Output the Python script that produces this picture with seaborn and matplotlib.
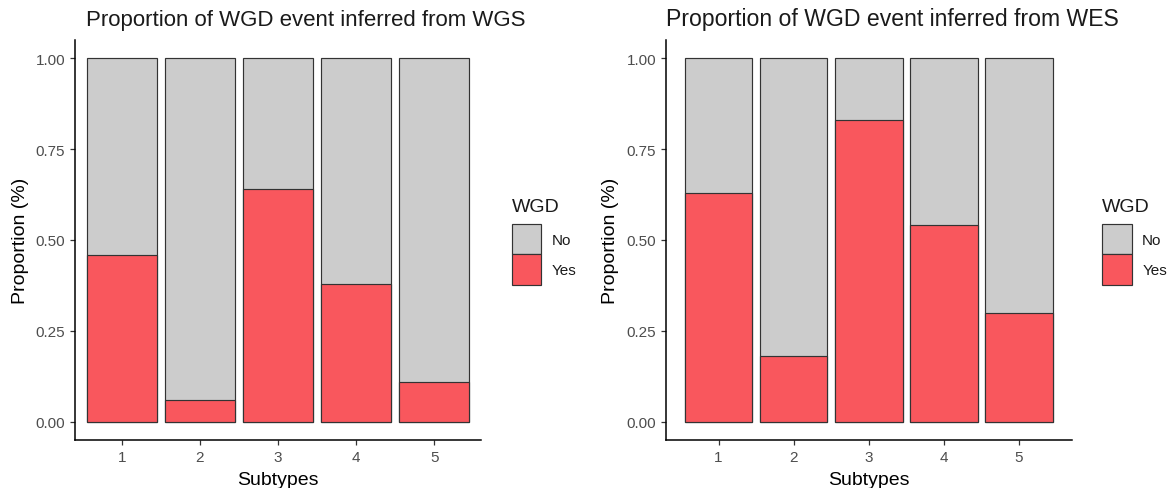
import matplotlib
matplotlib.use("Agg")
import matplotlib.pyplot as plt
import seaborn as sns
import numpy as np
from matplotlib.patches import Patch

# ---- data ----
subtypes = ["1", "2", "3", "4", "5"]
wgs_yes = [0.46, 0.06, 0.64, 0.38, 0.11]
wgs_no = [0.54, 0.94, 0.36, 0.62, 0.89]
wes_yes = [0.63, 0.18, 0.83, 0.54, 0.30]
wes_no = [0.37, 0.82, 0.17, 0.46, 0.70]
titles = ["Proportion of WGD event inferred from WGS",
          "Proportion of WGD event inferred from WES"]
legend_title = "WGD"
legend_labels = ["No", "Yes"]
y_ticks = [0.00, 0.25, 0.50, 0.75, 1.00]

sns.set_theme(style="ticks")
plt.rcParams["font.family"] = ["Liberation Sans", "DejaVu Sans"]

GRAY = "#CCCCCC"
RED = "#F9575D"
EDGE = "#333333"
TICKCOL = "#4D4D4D"

W, H = 1169, 489
fig = plt.figure(figsize=(W / 100, H / 100), dpi=100)

panels = [
    dict(yes=wgs_yes, no=wgs_no, title=titles[0], left=75, right=481, xlim=(-0.6, 4.6),
         leg_x=511.5, title_x=86.5, title_fs=16, ylab_x=29),
    dict(yes=wes_yes, no=wes_no, title=titles[1], left=666, right=1071.5, xlim=(-0.7, 4.7),
         leg_x=1102, title_x=666, title_fs=16.6, ylab_x=619),
]
top_px, bot_px = 41, 441

for p in panels:
    pw = p["right"] - p["left"]
    ax = fig.add_axes([p["left"] / W, 1 - bot_px / H, pw / W, (bot_px - top_px) / H])
    totals = [a + b for a, b in zip(p["yes"], p["no"])]
    sns.barplot(x=subtypes, y=totals, color=GRAY, saturation=1, edgecolor=EDGE,
                linewidth=0.85, width=0.9, errorbar=None, ax=ax)
    sns.barplot(x=subtypes, y=p["yes"], color=RED, saturation=1, edgecolor=EDGE,
                linewidth=0.85, width=0.9, errorbar=None, ax=ax)
    ax.set_xlim(*p["xlim"])
    ax.set_ylim(-0.05, 1.05)
    ax.set_yticks(y_ticks)
    ax.set_yticklabels([f"{v:.2f}" for v in y_ticks])
    for s in ["top", "right"]:
        ax.spines[s].set_visible(False)
    for s in ["left", "bottom"]:
        ax.spines[s].set_color("black")
        ax.spines[s].set_linewidth(1.1)
    ax.tick_params(axis="both", length=3.5, width=0.9, color="#333333",
                   labelsize=11, labelcolor=TICKCOL, pad=3.5)
    ax.set_xlabel("Subtypes", fontsize=14, color="black")
    ax.set_ylabel("Proportion (%)", fontsize=14, color="black")
    ax.xaxis.set_label_coords(0.5, -0.078)
    ax.yaxis.set_label_coords((p["ylab_x"] - p["left"]) / pw, 0.5)
    ax.text((p["title_x"] - p["left"]) / pw, 1.0375,
            p["title"], transform=ax.transAxes, ha="left", va="baseline",
            fontsize=p["title_fs"], color="#1a1a1a")
    # legend
    fig.text(p["leg_x"] / W, 1 - 212 / H, legend_title, ha="left", va="baseline",
             fontsize=14, color="#1a1a1a")
    handles = [Patch(facecolor=GRAY, edgecolor=EDGE, linewidth=0.85),
               Patch(facecolor=RED, edgecolor=EDGE, linewidth=0.85)]
    fs = 11
    fpx = fs * 100 / 72
    leg = ax.legend(handles=handles, labels=legend_labels,
                    loc="upper left", bbox_to_anchor=(p["leg_x"] / W, 1 - 225 / H),
                    bbox_transform=fig.transFigure, frameon=False, fontsize=fs,
                    borderpad=0, borderaxespad=0,
                    handlelength=29.5 / fpx, handleheight=30 / fpx * 30 / 22, labelspacing=0,
                    handletextpad=0.7)
    for t in leg.get_texts():
        t.set_color("#1a1a1a")

fig.savefig("out.png", dpi=100)
